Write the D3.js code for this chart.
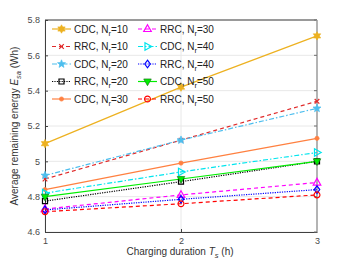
<!DOCTYPE html>
<html><head><meta charset="utf-8">
<script src="https://cdn.jsdelivr.net/npm/d3@7"></script>
<style>body{margin:0;background:#fff}svg{display:block;font-family:"Liberation Sans",Arial,sans-serif}</style>
</head><body><svg id="c" width="350" height="263"></svg>
<script>
const xValues = [1, 2, 3];
const xTicks = [1, 2, 3];
const yTicks = [4.6, 4.8, 5.0, 5.2, 5.4, 5.6, 5.8];
const yTickLabels = ["4.6", "4.8", "5", "5.2", "5.4", "5.6", "5.8"];
const seriesNames = ["CDC, N_r=10", "RRC, N_r=10", "CDC, N_r=20", "RRC, N_r=20", "CDC, N_r=30",
                     "RRC, N_r=30", "CDC, N_r=40", "RRC, N_r=40", "CDC, N_r=50", "RRC, N_r=50"];
const cdc10 = [5.10, 5.42, 5.71];
const rrc10 = [4.90, 5.12, 5.34];
const cdc20 = [4.92, 5.12, 5.30];
const rrc20 = [4.775, 4.885, 5.00];
const cdc30 = [4.84, 4.99, 5.13];
const rrc30 = [4.73, 4.81, 4.88];
const cdc40 = [4.82, 4.94, 5.05];
const rrc40 = [4.725, 4.785, 4.84];
const cdc50 = [4.80, 4.90, 5.00];
const rrc50 = [4.715, 4.76, 4.81];
const seriesValues = [cdc10, rrc10, cdc20, rrc20, cdc30, rrc30, cdc40, rrc40, cdc50, rrc50];

const styles = [
  {c:"#EDB120", dash:null, m:"hex", fill:true},
  {c:"#E02A2A", dash:"4,3", m:"x", fill:false},
  {c:"#4DBEEE", dash:"5,2,1.5,2", m:"star", fill:true},
  {c:"#000000", dash:"1.2,1.2", m:"square", fill:false},
  {c:"#FF8040", dash:null, m:"dot", fill:true},
  {c:"#FF00FF", dash:"4,3", m:"tri", fill:false},
  {c:"#00E5EE", dash:"5,2,1.5,2", m:"triR", fill:false},
  {c:"#0000FF", dash:"1.2,1.2", m:"diamond", fill:false},
  {c:"#00EE00", dash:null, m:"triD", fill:true},
  {c:"#FF0000", dash:"4,3", m:"circle", fill:false}
];

const svg = d3.select("#c");
const L = 45, R = 317, T = 20, B = 232;
const x = d3.scaleLinear().domain([1, 3]).range([L, R]);
const y = d3.scaleLinear().domain([4.6, 5.8]).range([B, T]);

const g = svg.append("g");
g.selectAll("line.gy").data(yTicks).enter().append("line")
  .attr("x1", L).attr("x2", R).attr("y1", d => y(d)).attr("y2", d => y(d))
  .attr("stroke", "#e8e8e8").attr("stroke-width", 1);
g.selectAll("line.gx").data(xTicks).enter().append("line")
  .attr("y1", T).attr("y2", B).attr("x1", d => x(d)).attr("x2", d => x(d))
  .attr("stroke", "#e8e8e8").attr("stroke-width", 1);

const yAxis = d3.axisLeft(y).tickValues(yTicks).tickFormat((d, i) => yTickLabels[i]).tickSizeInner(-3).tickSizeOuter(0).tickPadding(5);
const ya = svg.append("g").attr("transform", `translate(${L},0)`).call(yAxis);
const xAxis = d3.axisBottom(x).tickValues(xTicks).tickFormat(d3.format("d")).tickSizeInner(-3).tickSizeOuter(0).tickPadding(6);
const xa = svg.append("g").attr("transform", `translate(0,${B})`).call(xAxis);
[ya, xa].forEach(a => {
  a.select(".domain").attr("stroke", "#404040");
  a.selectAll(".tick line").attr("stroke", "#404040");
  a.selectAll(".tick text").attr("fill", "#4a4a4a").style("font-size", "9px").style("font-family", '"Liberation Sans",Arial,sans-serif');
});
svg.append("line").attr("x1", L).attr("x2", R).attr("y1", T).attr("y2", T).attr("stroke", "#404040");
svg.append("line").attr("x1", R).attr("x2", R).attr("y1", T).attr("y2", B).attr("stroke", "#b4b4b4").attr("stroke-width", 2);
svg.selectAll("line.rt").data(yTicks).enter().append("line")
  .attr("x1", R - 3).attr("x2", R).attr("y1", d => y(d)).attr("y2", d => y(d)).attr("stroke", "#707070");

function markerPath(type, s) {
  const p = d3.path();
  if (type === "hex" || type === "star") {
    const n = type === "hex" ? 6 : 5;
    const ro = s, ri = type === "hex" ? s * 0.55 : s * 0.42;
    for (let i = 0; i < 2 * n; i++) {
      const a = -Math.PI / 2 + i * Math.PI / n;
      const r = i % 2 ? ri : ro;
      if (i === 0) p.moveTo(r * Math.cos(a), r * Math.sin(a)); else p.lineTo(r * Math.cos(a), r * Math.sin(a));
    }
    p.closePath();
  } else if (type === "x") {
    const k = s * 0.55;
    p.moveTo(-k, -k); p.lineTo(k, k); p.moveTo(-k, k); p.lineTo(k, -k);
  } else if (type === "square") {
    const k = s * 0.6; p.rect(-k, -k, 2 * k, 2 * k);
  } else if (type === "dot") {
    p.arc(0, 0, s * 0.5, 0, 2 * Math.PI);
  } else if (type === "circle") {
    p.arc(0, 0, s * 0.7, 0, 2 * Math.PI);
  } else if (type === "tri") {
    p.moveTo(0, -s); p.lineTo(s * 0.9, s * 0.6); p.lineTo(-s * 0.9, s * 0.6); p.closePath();
  } else if (type === "triD") {
    p.moveTo(0, s); p.lineTo(s * 0.9, -s * 0.6); p.lineTo(-s * 0.9, -s * 0.6); p.closePath();
  } else if (type === "triR") {
    p.moveTo(s, 0); p.lineTo(-s * 0.6, s * 0.9); p.lineTo(-s * 0.6, -s * 0.9); p.closePath();
  } else if (type === "diamond") {
    p.moveTo(0, -s * 0.9); p.lineTo(s * 0.65, 0); p.lineTo(0, s * 0.9); p.lineTo(-s * 0.65, 0); p.closePath();
  }
  return p.toString();
}
function drawMarker(sel, st) {
  const fill = st.fill ? st.c : "none";
  const stroke = st.m === "triD" ? "#1a7a1a" : st.c;
  sel.attr("d", markerPath(st.m, 4.2)).attr("fill", fill).attr("stroke", stroke)
    .attr("stroke-width", st.fill ? 0.7 : 1.2);
}

const line = d3.line().x((d, i) => x(xValues[i])).y(d => y(d));
const plot = svg.append("g");
seriesValues.forEach((vals, k) => {
  const st = styles[k];
  plot.append("path").datum(vals).attr("d", line).attr("fill", "none")
    .attr("stroke", st.c).attr("stroke-width", 1.2).attr("stroke-dasharray", st.dash);
});
seriesValues.forEach((vals, k) => {
  const st = styles[k];
  plot.selectAll(null).data(vals).enter().append("path")
    .attr("transform", (d, i) => `translate(${x(xValues[i])},${y(d)})`)
    .each(function () { drawMarker(d3.select(this), st); });
});

const leg = svg.append("g");
const rowY = [29, 46.5, 64, 81.5, 99];
seriesNames.forEach((name, k) => {
  const col = k < 5 ? 0 : 1, row = k % 5;
  const x0 = col === 0 ? 52 : 138, yy = rowY[row];
  const st = styles[k];
  leg.append("line").attr("x1", x0).attr("x2", x0 + 19).attr("y1", yy).attr("y2", yy)
    .attr("stroke", st.c).attr("stroke-width", 1.2).attr("stroke-dasharray", st.dash);
  leg.append("path").attr("transform", `translate(${x0 + 9.5},${yy})`).call(s => drawMarker(s, st));
  const parts = name.split("_r");
  const t = leg.append("text").attr("x", x0 + 22).attr("y", yy + 3.6).attr("fill", "#222").style("font-size", "10px");
  t.append("tspan").text(parts[0]);
  t.append("tspan").attr("dy", 3).style("font-size", "7.5px").text("r");
  t.append("tspan").attr("dy", -3).text(parts[1]);
});

const xl = svg.append("text").attr("x", 180).attr("y", 255).attr("text-anchor", "middle").attr("fill", "#333").style("font-size", "10px");
xl.append("tspan").text("Charging duration ");
xl.append("tspan").style("font-style", "italic").text("T");
xl.append("tspan").style("font-style", "italic").style("font-size", "7.5px").attr("dy", 2.5).text("s");
xl.append("tspan").attr("dy", -2.5).text(" (h)");

const yl = svg.append("text").attr("transform", "translate(18,126) rotate(-90)").attr("text-anchor", "middle").attr("fill", "#333").style("font-size", "10px");
yl.append("tspan").text("Average remaining energy ");
yl.append("tspan").style("font-style", "italic").text("E");
yl.append("tspan").style("font-style", "italic").style("font-size", "7.5px").attr("dy", 2.5).text("sa");
yl.append("tspan").attr("dy", -2.5).text(" (Wh)");
</script></body></html>
